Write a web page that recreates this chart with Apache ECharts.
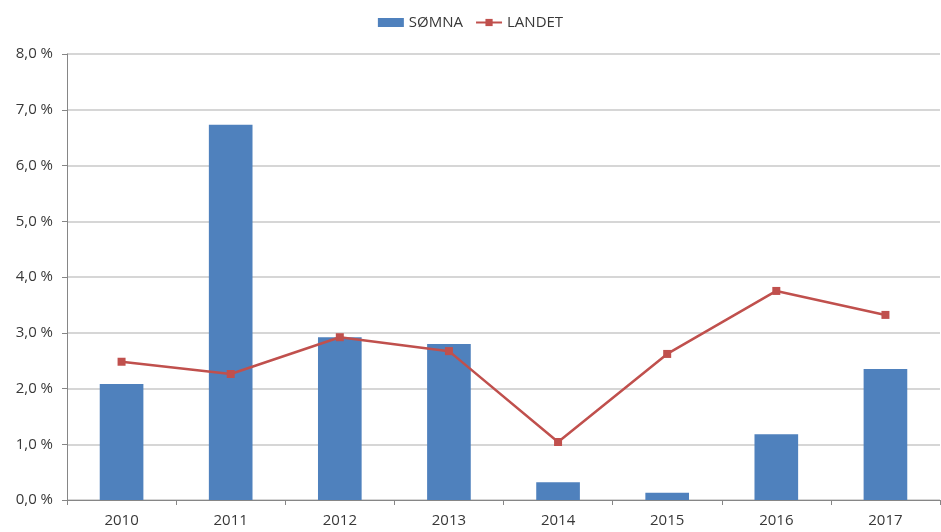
<!DOCTYPE html>
<html>
<head>
<meta charset="utf-8">
<script src="https://cdn.jsdelivr.net/npm/echarts@6/dist/echarts.min.js"></script>
<style>
html,body{margin:0;padding:0;background:#fff;}
#chart{width:941px;height:532px;}
</style>
</head>
<body>
<div id="chart"></div>
<script>
var categories = ['2010','2011','2012','2013','2014','2015','2016','2017'];
var somna = [2.08, 6.73, 2.92, 2.80, 0.32, 0.13, 1.18, 2.35];
var landet = [2.48, 2.26, 2.92, 2.67, 1.04, 2.62, 3.75, 3.32];
var seriesNames = ['SØMNA', 'LANDET'];

var chart = echarts.init(document.getElementById('chart'));
var font = '"Open Sans", "Liberation Sans", sans-serif';
chart.setOption({
  animation: false,
  textStyle: {fontFamily: font},
  legend: {
    top: 10,
    left: 'center',
    itemGap: 12,
    itemWidth: 26,
    itemHeight: 9,
    textStyle: {fontSize: 15, color: '#383838', fontFamily: font},
    data: [
      {name: seriesNames[0], icon: 'rect'},
      {name: seriesNames[1]}
    ]
  },
  grid: {left: 67, right: 1, top: 54, bottom: 32},
  xAxis: {
    type: 'category',
    data: categories,
    axisLine: {lineStyle: {color: '#868686', width: 1}},
    axisTick: {show: true, length: 5, lineStyle: {color: '#868686'}},
    axisLabel: {fontSize: 15, color: '#383838', margin: 13, fontFamily: font}
  },
  yAxis: {
    type: 'value',
    min: 0,
    max: 8,
    interval: 1,
    axisLine: {show: true, lineStyle: {color: '#868686', width: 1}},
    axisTick: {show: true, length: 5, lineStyle: {color: '#868686'}},
    axisLabel: {
      fontSize: 15, color: '#383838', margin: 14, fontFamily: font,
      formatter: function (v) { return v.toFixed(1).replace('.', ',') + ' %'; }
    },
    splitLine: {lineStyle: {color: '#c8c8c8', width: 1.5}}
  },
  series: [
    {
      name: seriesNames[0],
      type: 'bar',
      data: somna,
      barWidth: '40%',
      itemStyle: {color: '#4F81BD'}
    },
    {
      name: seriesNames[1],
      type: 'line',
      data: landet,
      symbol: 'rect',
      symbolSize: 8,
      lineStyle: {color: '#C0504D', width: 2.5},
      itemStyle: {color: '#C0504D'}
    }
  ]
});
</script>
</body>
</html>
